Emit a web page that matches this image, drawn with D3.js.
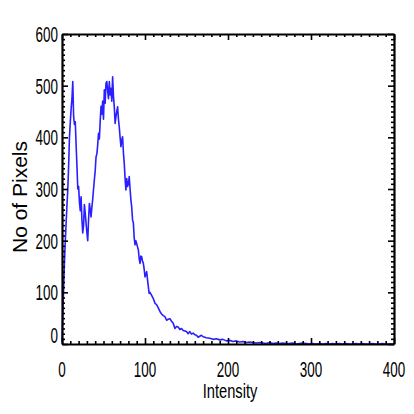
<!DOCTYPE html>
<html>
<head>
<meta charset="utf-8">
<script src="https://cdn.jsdelivr.net/npm/d3@7"></script>
<style>
  body { margin: 0; background: #fff; }
  svg { display: block; }
</style>
</head>
<body>
<script>
const W = 414, H = 414
const margin = { top: 34, right: 20, bottom: 70, left: 62 }
    , width = W - margin.left - margin.right
    , height = H - margin.top - margin.bottom

// intensity bins and pixel counts
const intensity = [
    0, 1, 2, 3, 4, 5, 6, 7, 8, 9, 10, 11, 12, 13, 14, 15, 16, 17, 18, 19,
    20, 21, 22, 23, 24, 25, 26, 27, 28, 29, 30, 31, 32, 33, 34, 35, 36, 37, 38, 39,
    40, 41, 42, 43, 44, 45, 46, 47, 48, 49, 50, 51, 52, 53, 54, 55, 56, 57, 58, 59,
    60, 61, 62, 63, 64, 65, 66, 67, 68, 69, 70, 71, 72, 73, 74, 75, 76, 77, 78, 79,
    80, 81, 82, 83, 84, 85, 86, 87, 88, 89, 90, 91, 92, 93, 94, 95, 96, 97, 98, 99,
    100, 101, 102, 103, 104, 105, 106, 108, 110, 112, 114, 116, 118, 120, 122, 124,
    126, 128, 130, 132, 134, 136, 138, 140, 142, 144, 146, 148, 150, 152, 154, 156,
    158, 160, 162, 164, 166, 168, 170, 174, 178, 182, 186, 190, 194, 198, 202, 206,
    210, 214, 218, 222, 226, 230, 234, 238, 242, 246, 250, 254, 258, 262, 266, 270,
    274, 278, 282, 286, 290, 294, 298, 302, 306, 310, 314, 318, 322, 326, 330, 334,
    338, 342, 346, 350, 354, 358, 362, 366, 370, 374, 378, 382, 386, 390, 394, 398, 400
]
const pixels = [
    5, 60, 110, 160, 200, 235, 270, 300, 345, 400, 430, 455, 475, 508, 440, 425, 430, 385, 345, 300,
    305, 275, 258, 285, 240, 215, 230, 270, 253, 234, 215, 200, 240, 272, 260, 246, 265, 280, 300, 318,
    335, 362, 368, 385, 408, 397, 430, 460, 445, 470, 435, 492, 466, 505, 508, 490, 475, 508, 482, 495,
    470, 517, 480, 459, 427, 440, 450, 459, 435, 420, 400, 382, 395, 401, 370, 350, 320, 298, 320, 305,
    310, 324, 300, 279, 265, 240, 234, 205, 192, 200, 194, 188, 182, 165, 156, 170, 169, 160, 156, 145,
    130, 135, 140, 125, 111, 98, 100, 94, 88, 79, 76, 70, 63, 58, 55, 53,
    46, 48, 49, 44, 40, 30, 34, 33, 28, 30, 26, 25, 24, 20, 24, 19,
    21, 18, 17, 13, 15, 17, 14, 12, 11, 9, 10, 8, 9, 6, 7, 5,
    6, 4, 5, 3, 4, 3, 2, 3, 2, 1, 3, 1, 2, 1, 2, 1,
    1, 2, 0, 1, 2, 1, 0, 1, 0, 1, 0, 1, 0, 1, 0, 1,
    0, 1, 0, 0, 1, 0, 1, 0, 0, 1, 0, 0, 1, 0, 0, 0, 0
]
const xTicks = [0, 100, 200, 300, 400]
const yTicks = [0, 100, 200, 300, 400, 500, 600]

const data = intensity.map((v, i) => ({ x: v, y: pixels[i] }))

const svg = d3.select('body').append('svg')
    .attr('width', W)
    .attr('height', H)

const xScale = d3.scaleLinear().domain([0, 400]).range([margin.left, margin.left + width])
const yScale = d3.scaleLinear().domain([0, 600]).range([margin.top + height, margin.top])

const xMinor = d3.range(0, 401, 10).filter(v => v % 100 != 0)
const yMinor = d3.range(0, 601, 10).filter(v => v % 100 != 0)

// the data line
svg.append('path')
    .datum(data)
    .attr('d', d3.line().x(d => xScale(d.x)).y(d => yScale(d.y)))
    .attr('fill', 'none')
    .attr('stroke', '#2a1fff')
    .attr('stroke-width', 1.6)
    .attr('stroke-linejoin', 'round')

// axes on all four sides, ticks pointing inward
const axes = [
    { gen: d3.axisBottom, scale: xScale, y: margin.top + height, x: 0, major: xTicks, minor: xMinor },
    { gen: d3.axisTop, scale: xScale, y: margin.top, x: 0, major: xTicks, minor: xMinor },
    { gen: d3.axisLeft, scale: yScale, y: 0, x: margin.left, major: yTicks, minor: yMinor },
    { gen: d3.axisRight, scale: yScale, y: 0, x: margin.left + width, major: yTicks, minor: yMinor }
]

axes.forEach(a => {
    svg.append('g')
        .attr('transform', 'translate(' + a.x + ',' + a.y + ')')
        .call(a.gen(a.scale).tickValues(a.minor).tickSizeInner(-3).tickSizeOuter(0).tickFormat(''))
        .call(g => g.select('.domain').remove())
        .call(g => g.selectAll('line').attr('stroke', '#000').attr('stroke-width', 1.6))
    svg.append('g')
        .attr('transform', 'translate(' + a.x + ',' + a.y + ')')
        .call(a.gen(a.scale).tickValues(a.major).tickSizeInner(-6).tickSizeOuter(0).tickFormat(''))
        .call(g => g.select('.domain').attr('stroke', '#000').attr('stroke-width', 2.2))
        .call(g => g.selectAll('line').attr('stroke', '#000').attr('stroke-width', 1.6))
})

// tick labels (narrow, like the original)
svg.selectAll('.xlab').data(xTicks)
    .enter()
    .append('text')
    .attr('transform', d => 'translate(' + xScale(d) + ',' + 377 + ')scale(0.61,1)')
    .attr('text-anchor', 'middle')
    .style('font-family', 'Liberation Sans, Arial, sans-serif')
    .style('font-size', '22px')
    .text(d => d)

svg.selectAll('.ylab').data(yTicks)
    .enter()
    .append('text')
    .attr('transform', d => 'translate(' + 58 + ',' + (Math.min(yScale(d), margin.top + height - 9) + 8) + ')scale(0.61,1)')
    .attr('text-anchor', 'end')
    .style('font-family', 'Liberation Sans, Arial, sans-serif')
    .style('font-size', '22px')
    .text(d => d)

// axis titles
svg.append('text')
    .attr('text-anchor', 'middle')
    .attr('transform', 'translate(' + 230 + ',' + 398 + ')scale(0.7,1)')
    .style('font-family', 'Liberation Sans, Arial, sans-serif')
    .style('font-size', '21px')
    .text('Intensity')

svg.append('text')
    .attr('text-anchor', 'middle')
    .attr('transform', 'translate(' + 27 + ',' + 197 + ')rotate(-90)')
    .style('font-family', 'Liberation Sans, Arial, sans-serif')
    .style('font-size', '21px')
    .text('No of Pixels')
</script>
</body>
</html>
